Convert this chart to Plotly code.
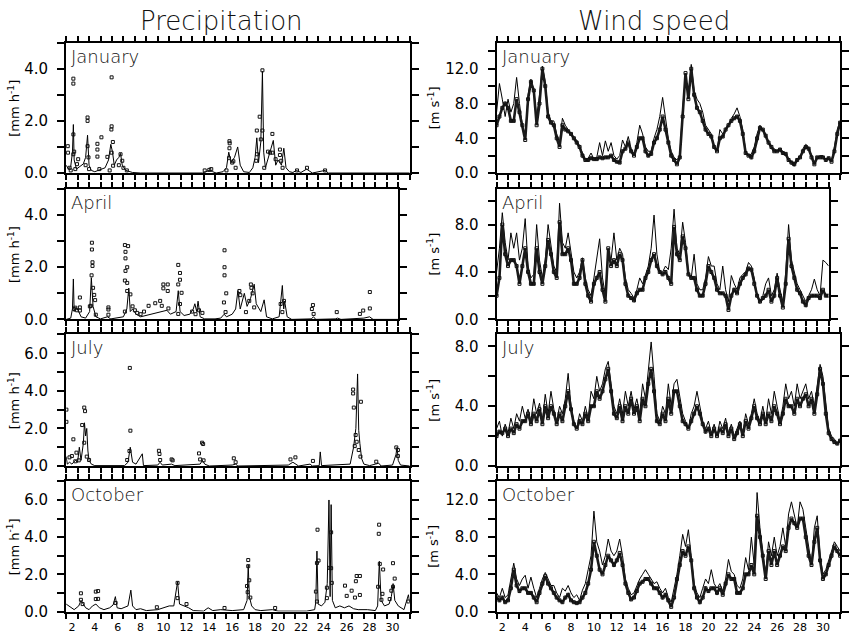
import plotly.graph_objects as go

W, H = 849, 635

# ---------------- DATA ----------------
# Wind time axis: quarter-day steps (day of month)
WIND_T = [1.5 + 0.25 * i for i in range(121)]
WIND_T_APR = [1.5 + 0.25 * i for i in range(117)]

# ---- Precipitation, January ----
JAN_P_LINE_X = [1.5, 1.7, 1.9, 2.05, 2.13, 2.2, 2.4, 2.7, 3.0, 3.2, 3.37, 3.5, 3.7, 4.0, 4.3, 4.6, 4.9, 5.2, 5.4, 5.55, 5.7, 5.9, 6.1, 6.25, 6.4, 6.7, 7.0, 7.3, 8.0, 13.4, 13.7, 14.0, 14.3, 14.6, 15.2, 15.5, 15.7, 15.9, 16.2, 16.48, 16.7, 17.0, 17.5, 17.8, 18.0, 18.15, 18.3, 18.5, 18.64, 18.75, 18.9, 19.1, 19.3, 19.59, 19.8, 20.0, 20.3, 20.51, 20.7, 21.0, 21.3, 21.6, 22.0, 22.5, 23.0, 24.1, 24.4, 31.5]
JAN_P_LINE_Y = [0.3, 0.15, 0.25, 0.8, 1.86, 0.5, 0.15, 0.25, 0.35, 0.6, 1.45, 0.3, 0.1, 0.05, 0.1, 0.15, 0.2, 0.5, 1.1, 0.8, 0.3, 0.5, 0.6, 0.75, 0.3, 0.1, 0.05, 0.02, 0.0, 0.0, 0.05, 0.1, 0.05, 0.0, 0.05, 0.2, 0.8, 0.4, 0.6, 1.0, 0.3, 0.05, 0.02, 0.2, 0.6, 1.35, 0.4, 1.2, 3.9, 0.8, 0.2, 0.5, 0.8, 1.25, 0.3, 0.5, 0.3, 0.95, 0.2, 0.05, 0.02, 0.1, 0.02, 0.15, 0.0, 0.1, 0.0, 0.0]
JAN_P_OBS_X = [1.64, 1.66, 2.13, 2.13, 2.13, 2.13, 2.2, 2.55, 2.45, 1.8, 1.9, 2.3, 3.37, 3.37, 3.37, 3.45, 3.2, 3.5, 4.23, 4.23, 4.23, 4.58, 4.4, 5.1, 5.47, 5.47, 5.45, 5.58, 5.47, 5.6, 5.3, 6.25, 6.4, 6.1, 6.5, 6.8, 13.6, 14.0, 14.17, 15.5, 15.76, 15.78, 15.76, 15.72, 16.0, 16.1, 16.3, 18.15, 18.17, 18.1, 18.4, 18.64, 18.64, 18.5, 18.8, 19.13, 19.31, 19.51, 19.51, 19.79, 20.17, 20.17, 20.28, 20.4, 21.66, 22.53, 24.11]
JAN_P_OBS_Y = [1.03, 0.78, 3.62, 3.43, 1.48, 0.72, 0.82, 0.53, 0.34, 0.2, 0.1, 0.15, 2.13, 2.0, 1.03, 0.6, 0.3, 0.15, 1.12, 0.9, 0.63, 1.37, 0.15, 0.62, 3.67, 1.79, 1.67, 1.19, 0.78, 0.28, 0.1, 0.72, 0.47, 0.3, 0.2, 0.1, 0.1, 0.12, 0.15, 0.1, 1.22, 1.14, 0.95, 0.57, 0.4, 0.45, 0.2, 1.63, 0.72, 0.47, 2.16, 3.94, 1.63, 1.29, 0.2, 0.82, 0.78, 1.5, 0.78, 0.53, 0.9, 0.69, 0.47, 0.2, 0.1, 0.2, 0.1]

# ---- Precipitation, April ----
APR_P_LINE_X = [1.5, 1.9, 2.05, 2.13, 2.2, 2.4, 2.6, 2.8, 3.2, 3.55, 3.7, 3.85, 4.1, 4.5, 5.1, 5.4, 6.5, 6.8, 6.97, 7.1, 7.3, 7.6, 8.0, 8.5, 9.0, 9.5, 9.9, 10.3, 10.6, 11.1, 11.29, 11.45, 11.8, 12.3, 12.6, 12.74, 12.9, 13.02, 13.2, 13.6, 14.5, 15.0, 15.3, 15.5, 16.0, 16.3, 16.5, 16.7, 17.06, 17.3, 17.6, 17.92, 18.1, 18.5, 18.79, 19.0, 19.5, 20.1, 20.38, 20.5, 20.58, 20.8, 21.2, 22.9, 23.1, 23.3, 25.0, 25.2, 25.5, 27.0, 27.5, 28.0, 28.3, 30.5]
APR_P_LINE_Y = [0.0, 0.05, 0.4, 1.55, 0.3, 0.45, 0.3, 0.1, 0.05, 0.3, 1.6, 0.5, 0.1, 0.02, 0.1, 0.02, 0.1, 0.4, 1.2, 0.3, 0.4, 0.2, 0.1, 0.15, 0.2, 0.25, 0.3, 0.35, 0.2, 0.3, 1.1, 0.3, 0.15, 0.2, 0.4, 0.6, 0.3, 0.7, 0.1, 0.02, 0.02, 0.05, 0.2, 0.1, 0.2, 0.4, 1.1, 0.4, 1.0, 0.5, 0.8, 1.35, 0.6, 0.3, 0.75, 0.1, 0.02, 0.1, 1.3, 0.4, 0.7, 0.1, 0.0, 0.02, 0.1, 0.0, 0.02, 0.05, 0.0, 0.02, 0.05, 0.1, 0.0, 0.0]
APR_P_OBS_X = [2.2, 2.3, 2.45, 2.7, 2.7, 2.7, 3.66, 3.75, 3.75, 3.8, 3.8, 3.72, 3.85, 3.95, 4.03, 3.57, 4.09, 5.19, 5.19, 5.19, 6.63, 6.63, 6.63, 6.91, 6.68, 6.68, 6.68, 6.83, 6.83, 6.83, 7.11, 7.3, 7.5, 7.7, 8.0, 8.3, 8.7, 9.28, 9.71, 9.99, 9.99, 10.37, 10.37, 9.85, 10.43, 11.29, 11.29, 11.29, 11.44, 11.44, 11.44, 11.58, 12.5, 12.8, 13.1, 13.4, 15.33, 15.33, 15.33, 15.48, 15.28, 15.42, 16.63, 16.71, 17.63, 17.68, 17.78, 17.49, 17.92, 17.2, 20.23, 20.52, 20.38, 23.05, 22.96, 23.11, 25.13, 27.15, 27.44, 28.02, 28.02]
APR_P_OBS_Y = [0.4, 0.45, 0.35, 0.84, 0.46, 0.34, 0.52, 2.94, 2.68, 2.19, 2.05, 1.69, 1.21, 0.94, 0.74, 0.5, 0.18, 0.46, 0.38, 0.18, 2.85, 1.49, 0.3, 2.81, 2.59, 2.34, 1.86, 2.0, 1.4, 1.09, 0.96, 0.5, 0.35, 0.25, 0.2, 0.3, 0.52, 0.62, 0.71, 1.34, 1.19, 1.34, 1.09, 0.52, 0.42, 2.09, 1.34, 0.21, 1.78, 1.52, 0.59, 1.02, 0.3, 0.2, 0.35, 0.25, 2.65, 2.0, 1.69, 1.0, 0.65, 0.28, 1.09, 0.93, 1.34, 1.21, 1.0, 0.71, 0.46, 0.28, 0.59, 0.71, 0.28, 0.55, 0.4, 0.21, 0.28, 0.21, 0.34, 1.05, 0.42]

# ---- Precipitation, July ----
JUL_P_LINE_X = [1.5, 1.6, 1.8, 2.0, 2.3, 2.5, 2.65, 2.8, 3.0, 3.1, 3.2, 3.3, 3.4, 3.5, 3.7, 4.0, 6.6, 6.9, 7.1, 7.3, 7.6, 8.15, 8.25, 9.5, 9.7, 9.9, 10.7, 11.0, 13.2, 13.4, 13.6, 14.0, 16.0, 16.3, 16.5, 20.9, 21.3, 21.6, 21.8, 22.8, 23.0, 23.6, 23.69, 23.8, 26.3, 26.6, 26.8, 26.95, 27.05, 27.15, 27.3, 27.5, 28.0, 28.5, 28.8, 29.0, 30.0, 30.3, 30.4, 30.5, 30.7, 31.5]
JUL_P_LINE_Y = [0.5, 0.1, 0.2, 0.1, 0.3, 0.2, 1.0, 0.3, 1.2, 2.3, 1.6, 2.0, 0.8, 0.3, 0.1, 0.02, 0.02, 0.2, 1.0, 0.2, 0.1, 0.65, 0.02, 0.05, 0.2, 0.05, 0.1, 0.02, 0.1, 0.3, 0.1, 0.0, 0.05, 0.1, 0.0, 0.05, 0.2, 0.1, 0.0, 0.1, 0.0, 0.02, 0.75, 0.02, 0.1, 1.0, 2.0, 4.9, 1.9, 1.2, 0.4, 0.1, 0.02, 0.1, 0.15, 0.0, 0.05, 0.6, 1.0, 0.3, 0.05, 0.0]
JUL_P_OBS_X = [1.52, 1.52, 1.79, 2.0, 2.13, 2.4, 2.9, 3.08, 3.15, 3.08, 3.3, 3.5, 2.3, 2.6, 7.06, 7.11, 7.03, 6.83, 9.6, 9.65, 9.71, 10.71, 10.8, 13.1, 13.37, 13.46, 13.2, 13.5, 16.14, 16.3, 21.09, 21.52, 23.05, 26.56, 26.56, 26.62, 27.24, 26.78, 26.7, 27.05, 26.87, 27.2, 28.58, 30.33, 30.47, 30.47]
JUL_P_OBS_Y = [3.0, 2.35, 0.46, 0.53, 1.42, 0.71, 2.18, 3.11, 2.92, 1.24, 0.5, 0.32, 0.25, 0.3, 5.22, 1.88, 0.8, 0.32, 0.81, 0.64, 0.32, 0.35, 0.3, 0.67, 1.24, 1.17, 0.35, 0.3, 0.41, 0.2, 0.35, 0.46, 0.27, 4.07, 3.86, 3.11, 3.42, 1.65, 1.06, 0.85, 1.29, 0.5, 0.23, 0.99, 0.85, 0.53]

# ---- Precipitation, October ----
OCT_P_LINE_X = [1.5, 1.7, 1.9, 2.2, 2.6, 2.8, 3.0, 3.2, 3.5, 3.8, 4.1, 4.4, 4.8, 5.3, 5.6, 5.8, 5.95, 6.3, 6.9, 7.15, 7.3, 7.6, 8.0, 8.5, 9.5, 10.0, 10.5, 10.9, 11.23, 11.4, 11.8, 12.2, 12.6, 13.5, 13.9, 14.3, 15.0, 16.0, 17.0, 17.3, 17.4, 17.5, 17.7, 18.0, 18.5, 19.5, 20.0, 22.5, 23.2, 23.3, 23.4, 23.5, 23.8, 24.1, 24.3, 24.45, 24.55, 24.64, 24.75, 25.0, 25.4, 25.8, 26.2, 26.6, 27.0, 27.8, 28.5, 28.7, 28.85, 29.0, 29.3, 29.7, 29.9, 30.05, 30.2, 30.5, 31.0, 31.39, 31.5]
OCT_P_LINE_Y = [0.4, 0.3, 0.2, 0.1, 0.3, 0.6, 0.4, 0.2, 0.1, 0.3, 0.4, 0.2, 0.1, 0.2, 0.35, 0.8, 0.2, 0.15, 0.3, 1.15, 0.3, 0.1, 0.15, 0.05, 0.1, 0.2, 0.3, 0.3, 1.6, 0.4, 0.3, 0.2, 0.05, 0.02, 0.2, 0.05, 0.1, 0.05, 0.1, 0.6, 2.5, 0.8, 0.3, 0.1, 0.05, 0.1, 0.02, 0.02, 0.1, 0.5, 3.25, 0.4, 0.3, 0.5, 1.5, 6.0, 0.8, 5.75, 0.6, 0.2, 0.3, 0.2, 0.3, 0.15, 0.1, 0.1, 0.05, 0.3, 2.7, 0.6, 0.3, 0.4, 0.8, 1.5, 0.6, 0.3, 0.1, 0.9, 0.5]
OCT_P_OBS_X = [2.79, 2.79, 2.94, 4.09, 4.29, 4.09, 4.29, 5.82, 9.42, 11.23, 11.23, 12.01, 15.33, 17.29, 17.35, 17.4, 17.4, 17.49, 17.58, 19.75, 23.31, 23.4, 23.45, 23.54, 23.4, 24.27, 24.5, 24.64, 24.64, 24.7, 24.27, 25.85, 26.0, 26.43, 26.87, 26.8, 27.15, 27.15, 26.72, 28.83, 28.8, 28.74, 28.89, 29.18, 29.12, 29.03, 29.75, 30.04, 30.19, 30.04, 29.9, 31.39]
OCT_P_OBS_Y = [0.98, 0.63, 0.4, 1.07, 1.1, 0.67, 0.68, 0.46, 0.23, 1.54, 0.72, 0.4, 0.19, 1.37, 1.04, 2.77, 2.44, 1.68, 0.75, 0.19, 1.07, 2.61, 4.4, 2.74, 0.54, 1.28, 2.35, 2.33, 4.26, 1.54, 0.72, 1.39, 0.84, 1.12, 1.91, 1.63, 1.91, 0.89, 0.75, 4.67, 4.18, 1.33, 2.56, 2.26, 0.95, 0.63, 0.67, 2.6, 1.77, 1.33, 1.12, 0.54]

# ---- Wind speed (model line / observed squares) ----
JAN_W_LINE = [7.0, 10.3, 8.5, 6.5, 8.5, 7.0, 8.0, 11.0, 8.0, 5.5, 4.0, 9.0, 10.8, 9.5, 6.5, 9.0, 12.3, 10.5, 7.0, 6.0, 6.0, 4.5, 3.5, 6.3, 5.5, 5.0, 4.5, 4.0, 3.8, 3.0, 2.2, 1.6, 1.7, 2.3, 1.6, 1.8, 3.5, 2.0, 3.7, 2.5, 3.5, 2.0, 1.6, 2.0, 3.8, 3.0, 4.2, 2.8, 2.2, 3.5, 5.5, 4.5, 3.0, 2.5, 2.5, 4.0, 5.0, 6.5, 8.7, 6.0, 4.0, 2.5, 1.8, 1.5, 2.0, 7.5, 11.0, 9.0, 12.5, 9.5, 8.5, 8.0, 7.0, 5.5, 5.0, 4.5, 3.0, 2.5, 5.0, 4.5, 5.0, 5.5, 6.3, 6.8, 7.5, 6.5, 5.0, 2.5, 2.0, 2.2, 3.0, 4.5, 5.5, 5.0, 4.5, 3.5, 3.0, 2.8, 2.5, 2.8, 2.5, 2.0, 1.5, 1.0, 0.8, 1.5, 1.8, 2.8, 3.3, 3.0, 2.0, 1.0, 1.8, 2.0, 2.0, 1.6, 1.8, 1.4, 3.0, 5.0, 6.0]
JAN_W_OBS = [5.5, 6.5, 7.5, 8.0, 7.5, 6.0, 6.0, 8.5, 7.0, 5.5, 3.8, 8.5, 10.5, 9.5, 5.5, 8.0, 12.0, 10.0, 6.5, 5.8, 5.5, 4.0, 3.0, 5.5, 5.0, 4.8, 4.5, 4.0, 3.5, 3.0, 2.0, 1.5, 1.5, 1.7, 1.6, 1.6, 1.8, 1.7, 1.8, 1.8, 2.0, 1.5, 1.3, 1.2, 2.5, 2.8, 3.5, 2.5, 2.0, 3.0, 4.0, 4.0, 2.5, 2.0, 2.2, 3.5, 4.0, 5.0, 6.5, 5.0, 3.5, 2.0, 1.5, 1.0, 1.8, 6.5, 11.5, 8.5, 12.0, 9.0, 7.5, 7.0, 6.0, 5.0, 4.5, 4.2, 3.0, 2.5, 4.0, 4.2, 5.0, 5.5, 6.0, 6.3, 6.5, 6.0, 4.5, 2.3, 2.0, 1.8, 2.5, 4.0, 5.2, 5.0, 4.3, 3.5, 3.0, 2.5, 2.5, 2.7, 2.3, 2.2, 1.5, 1.2, 1.0, 1.5, 1.8, 2.5, 3.0, 2.8, 1.8, 1.0, 1.8, 1.8, 1.8, 1.5, 1.7, 1.3, 2.5, 4.5, 5.8]

APR_W_LINE = [4.0, 6.0, 9.0, 6.5, 5.0, 7.3, 6.0, 7.3, 5.0, 6.0, 8.5, 4.5, 3.5, 3.8, 8.0, 5.0, 3.5, 5.0, 8.0, 6.0, 4.5, 4.0, 9.8, 6.5, 6.0, 7.3, 5.5, 4.0, 3.5, 4.0, 5.2, 3.5, 2.5, 2.0, 3.5, 5.0, 6.8, 3.5, 2.0, 5.5, 5.0, 7.3, 5.0, 6.0, 5.5, 3.5, 2.5, 2.2, 1.8, 2.5, 3.5, 3.0, 3.8, 4.5, 6.0, 8.8, 5.5, 4.0, 4.0, 4.5, 4.2, 6.0, 9.3, 6.0, 5.5, 8.2, 6.5, 4.0, 3.5, 5.5, 3.0, 2.5, 2.5, 3.5, 5.3, 4.5, 4.5, 3.0, 2.5, 4.5, 2.5, 1.5, 3.7, 3.0, 2.5, 3.5, 3.8, 4.0, 4.8, 4.5, 3.5, 2.0, 1.5, 2.0, 3.0, 3.5, 2.0, 2.5, 3.9, 2.5, 1.5, 4.0, 8.0, 5.0, 4.0, 3.0, 2.5, 2.0, 1.5, 2.0, 2.5, 3.4, 2.5, 2.0, 5.0, 4.8, 4.5]
APR_W_OBS = [2.0, 3.5, 8.0, 5.5, 4.5, 5.0, 5.0, 4.5, 3.0, 4.5, 6.0, 4.0, 3.0, 3.0, 6.0, 4.0, 3.0, 4.5, 6.7, 5.5, 4.0, 3.5, 8.2, 5.5, 5.5, 6.0, 5.0, 3.0, 3.0, 3.5, 5.0, 3.0, 2.0, 1.5, 3.0, 3.5, 4.0, 2.5, 1.5, 6.0, 4.5, 5.0, 4.5, 5.5, 5.0, 3.0, 2.0, 1.8, 1.6, 2.2, 2.5, 2.5, 3.5, 4.0, 5.0, 5.5, 4.5, 4.0, 3.8, 4.0, 3.5, 3.0, 7.8, 5.5, 5.0, 7.0, 6.0, 3.8, 3.5, 3.5, 2.5, 2.0, 2.0, 3.0, 4.5, 4.0, 3.5, 2.5, 2.2, 2.2, 2.0, 0.8, 2.0, 2.5, 2.2, 3.0, 3.5, 3.8, 4.3, 4.2, 3.0, 2.0, 1.5, 1.8, 2.0, 2.5, 1.5, 2.0, 3.5, 2.0, 1.0, 3.0, 6.8, 4.5, 3.5, 2.5, 2.2, 1.5, 1.2, 1.8, 2.0, 2.0, 2.0, 1.8, 2.5, 2.0, 2.0]

JUL_W_LINE = [2.5, 3.0, 2.0, 2.8, 2.2, 3.2, 2.5, 3.5, 3.0, 4.0, 3.2, 3.8, 3.0, 4.5, 3.5, 4.2, 3.0, 4.8, 3.5, 5.0, 3.8, 3.0, 4.0, 3.5, 4.5, 6.2, 4.0, 3.0, 2.5, 3.5, 3.0, 4.0, 3.2, 5.0, 4.5, 6.0, 5.0, 5.5, 6.5, 7.0, 5.5, 4.0, 3.5, 4.5, 3.5, 5.0, 4.0, 5.0, 3.8, 4.5, 3.5, 5.5, 4.5, 6.5, 8.3, 6.0, 3.5, 3.0, 4.0, 3.5, 5.5, 4.0, 5.5, 5.8, 4.5, 3.5, 3.0, 2.5, 3.5, 4.0, 5.0, 4.0, 3.0, 2.5, 3.0, 2.2, 2.8, 2.0, 3.0, 2.5, 3.2, 2.2, 2.8, 2.0, 2.5, 3.0, 2.2, 3.5, 2.8, 3.5, 4.5, 3.5, 3.0, 4.0, 3.0, 4.5, 3.5, 5.0, 4.0, 3.0, 4.0, 5.5, 4.5, 5.0, 4.0, 5.5, 4.5, 5.0, 5.5, 4.5, 5.0, 4.0, 5.5, 6.8, 6.0, 4.0, 2.5, 2.0, 1.8, 1.5, 1.8]
JUL_W_OBS = [2.0, 2.3, 2.2, 2.5, 2.0, 2.5, 2.2, 2.8, 2.5, 3.0, 3.0, 3.5, 2.8, 3.5, 3.0, 3.8, 2.8, 4.0, 3.2, 4.0, 3.5, 2.8, 3.5, 3.0, 4.0, 5.0, 3.8, 2.8, 2.5, 3.0, 2.8, 3.5, 3.0, 4.0, 4.0, 5.0, 4.5, 5.0, 5.8, 6.5, 5.0, 3.5, 3.2, 4.0, 3.0, 4.0, 3.5, 4.5, 3.5, 4.0, 3.0, 4.5, 4.0, 5.5, 6.5, 5.0, 3.0, 2.8, 3.5, 3.0, 4.5, 3.5, 5.0, 5.0, 4.0, 3.0, 2.8, 2.5, 3.0, 3.5, 4.0, 3.5, 2.8, 2.3, 2.5, 2.0, 2.5, 2.0, 2.5, 2.2, 2.8, 2.0, 2.5, 1.8, 2.2, 2.8, 2.0, 3.0, 2.5, 3.2, 4.0, 3.2, 2.8, 3.5, 2.8, 3.5, 3.0, 4.0, 3.5, 2.8, 3.5, 4.5, 4.0, 4.0, 3.5, 4.5, 4.0, 4.5, 4.8, 4.0, 4.5, 3.5, 4.8, 6.5, 5.5, 3.5, 2.2, 1.8, 1.6, 1.5, 1.7]

OCT_W_LINE = [2.0, 1.5, 2.5, 1.5, 1.8, 3.5, 5.2, 3.5, 2.8, 3.5, 3.9, 2.5, 3.7, 2.5, 1.5, 2.5, 3.5, 4.2, 3.5, 2.8, 2.8, 2.0, 1.5, 2.5, 2.2, 2.8, 2.0, 1.5, 1.8, 1.2, 2.3, 3.0, 4.5, 6.0, 10.8, 7.5, 6.5, 5.0, 6.0, 7.8, 6.5, 6.0, 6.5, 7.8, 6.0, 3.5, 2.5, 1.8, 2.0, 2.8, 3.5, 4.0, 4.5, 4.0, 3.5, 3.0, 3.2, 2.5, 2.0, 2.5, 1.5, 1.0, 2.5, 4.0, 6.0, 8.3, 7.0, 8.8, 6.0, 3.0, 2.0, 1.5, 2.5, 3.5, 3.0, 4.5, 3.0, 2.5, 3.0, 2.2, 3.5, 5.6, 4.3, 4.0, 2.8, 2.5, 3.5, 5.8, 4.5, 8.0, 5.0, 12.8, 9.0, 6.5, 4.0, 7.5, 6.0, 8.0, 6.0, 7.0, 9.0, 7.0, 10.5, 11.8, 10.5, 9.0, 11.8, 11.0, 9.0, 7.0, 5.0, 9.0, 10.3, 6.0, 4.0, 4.5, 5.5, 6.5, 7.5, 7.0, 6.5]
OCT_W_OBS = [1.5, 1.2, 1.5, 1.0, 1.2, 2.5, 4.5, 2.8, 2.2, 2.5, 2.5, 2.0, 2.0, 1.5, 1.0, 2.0, 3.0, 3.8, 3.0, 2.5, 2.0, 1.5, 1.2, 1.0, 1.5, 1.8, 1.2, 1.0, 0.9, 1.0, 1.5, 2.0, 3.0, 4.5, 7.5, 6.0, 4.5, 4.0, 5.0, 6.0, 5.5, 5.0, 5.5, 6.3, 5.0, 3.0, 2.0, 1.3, 1.5, 2.2, 3.0, 3.2, 3.5, 3.5, 3.0, 2.5, 2.5, 2.0, 1.5, 1.8, 1.2, 0.5, 1.5, 3.5, 5.0, 6.5, 6.0, 7.0, 5.5, 2.5, 1.5, 1.0, 1.5, 2.5, 2.2, 2.5, 2.5, 2.0, 2.5, 1.8, 3.0, 4.0, 3.5, 3.5, 2.0, 2.0, 2.5, 4.0, 4.0, 5.0, 4.0, 10.3, 8.0, 6.0, 3.5, 6.5, 5.0, 6.5, 5.0, 6.0, 7.0, 6.5, 9.0, 10.0, 9.5, 9.0, 10.0, 10.0, 8.0, 6.0, 5.0, 7.5, 9.0, 5.5, 3.5, 4.0, 5.0, 6.0, 7.0, 6.5, 6.0]

MONTHS = ["January", "April", "July", "October"]
P_YMAX = [5, 5, 7, 7]
W_YMAX = [15, 11, 8.8, 14]
X_END = [31.5, 30.5, 31.5, 31.5]
X_LABELS = list(range(2, 31, 2))

P_LINES = [(JAN_P_LINE_X, JAN_P_LINE_Y), (APR_P_LINE_X, APR_P_LINE_Y),
           (JUL_P_LINE_X, JUL_P_LINE_Y), (OCT_P_LINE_X, OCT_P_LINE_Y)]
P_OBS = [(JAN_P_OBS_X, JAN_P_OBS_Y), (APR_P_OBS_X, APR_P_OBS_Y),
         (JUL_P_OBS_X, JUL_P_OBS_Y), (OCT_P_OBS_X, OCT_P_OBS_Y)]
W_SERIES = [(WIND_T, JAN_W_LINE, JAN_W_OBS), (WIND_T_APR, APR_W_LINE, APR_W_OBS),
            (WIND_T, JUL_W_LINE, JUL_W_OBS), (WIND_T, OCT_W_LINE, OCT_W_OBS)]

# ---------------- LAYOUT GEOMETRY (pixels) ----------------
LEFT_X0 = 66.7
RIGHT_X0 = 500.7
ROWS = [(43.3, 175.5), (191.7, 324.0), (339.3, 472.7), (488.3, 620.3)]
PX_PER_DAY = 346.4 / 30.0


def fx(p):
    return p / W


def fy(p):
    return 1 - p / H


TICK_FONT = dict(family="DejaVu Sans", size=15, color="black")
LIGHT = dict(family="DejaVu Sans", color="#111", weight=200)
MARKER = dict(symbol="square-open", size=3, color="#111", line=dict(width=1, color="#111"))

fig = go.Figure()
annotations = []
layout_axes = {}

for r in range(4):
    top, bot = ROWS[r]
    for c in range(2):
        idx = r * 2 + 1 + c
        xs = "" if idx == 1 else str(idx)
        x0 = LEFT_X0 if c == 0 else RIGHT_X0
        xend = X_END[r]
        x1 = x0 + (xend - 1.5) * PX_PER_DAY
        if c == 0:
            ymax = P_YMAX[r]
            major = [v for v in range(0, ymax + 1) if v % 2 == 0]
            minor = [v for v in range(0, ymax + 1) if v % 2 == 1]
            lx, ly = P_LINES[r]
            ox, oy = P_OBS[r]
            obs_mode, obs_line = "markers", dict(width=0)
        else:
            ymax = W_YMAX[r]
            major = [v for v in range(0, int(ymax) + 1, 4)]
            minor = [v for v in range(2, int(ymax) + 1, 4)]
            lx, ly, oy = W_SERIES[r]
            ox = lx
            # hourly squares in the original merge into a dense band
            obs_mode, obs_line = "lines+markers", dict(width=2.6, color="#1a1a1a")
        fig.add_trace(go.Scatter(x=lx, y=ly, mode="lines", line=dict(color="black", width=1),
                                 xaxis="x" + xs, yaxis="y" + xs, showlegend=False))
        fig.add_trace(go.Scatter(x=ox, y=oy, mode=obs_mode, marker=MARKER, line=obs_line,
                                 xaxis="x" + xs, yaxis="y" + xs, showlegend=False))
        layout_axes["xaxis" + xs] = dict(
            domain=[fx(x0), fx(x1)], range=[1.5, xend], anchor="y" + xs,
            showline=True, linewidth=2, linecolor="black", mirror="ticks",
            ticks="outside", ticklen=0, tickvals=X_LABELS, ticktext=[str(v) for v in X_LABELS],
            showticklabels=(r == 3), tickfont=dict(family="DejaVu Sans", size=11, color="black"),
            ticklabelstandoff=4,
            minor=dict(tickvals=[1.5 + k for k in range(int(xend - 1.5) + 1)], ticks="outside",
                       ticklen=5, tickwidth=1.5, tickcolor="black", showgrid=False),
            showgrid=False, zeroline=False)
        layout_axes["yaxis" + xs] = dict(
            domain=[fy(bot), fy(top)], range=[0, ymax], anchor="x" + xs,
            showline=True, linewidth=2, linecolor="black", mirror="ticks",
            ticks="outside", ticklen=7, tickwidth=1.5, tickcolor="black",
            tickvals=major, ticktext=[f"{v:.1f}" for v in major], tickfont=TICK_FONT,
            ticklabelstandoff=6,
            minor=dict(tickvals=minor, ticks="outside", ticklen=7, tickwidth=1.5,
                       tickcolor="black", showgrid=False),
            showgrid=False, zeroline=False)
        annotations.append(dict(text=MONTHS[r], x=fx(x0 + 3), y=fy(top + 1), xref="paper", yref="paper",
                                xanchor="left", yanchor="top", showarrow=False,
                                font=dict(size=18, **LIGHT)))
        ylab = "[mm h<sup>-1</sup>]" if c == 0 else "[m s<sup>-1</sup>]"
        annotations.append(dict(text=ylab, x=fx(14 if c == 0 else 437), y=fy((top + bot) / 2),
                                xref="paper", yref="paper", xanchor="center", yanchor="middle",
                                textangle=-90, showarrow=False,
                                font=dict(family="DejaVu Sans", size=13, color="black")))

annotations.append(dict(text="Precipitation", x=fx(223), y=fy(21), xref="paper", yref="paper",
                        xanchor="center", yanchor="middle", showarrow=False,
                        font=dict(size=26, **LIGHT)))
annotations.append(dict(text="Wind speed", x=fx(659), y=fy(21), xref="paper", yref="paper",
                        xanchor="center", yanchor="middle", showarrow=False,
                        font=dict(size=26, **LIGHT)))

fig.update_layout(width=W, height=H, margin=dict(l=0, r=0, t=0, b=0),
                  paper_bgcolor="white", plot_bgcolor="white",
                  annotations=annotations, showlegend=False, **layout_axes)

fig.write_html("out.html")
